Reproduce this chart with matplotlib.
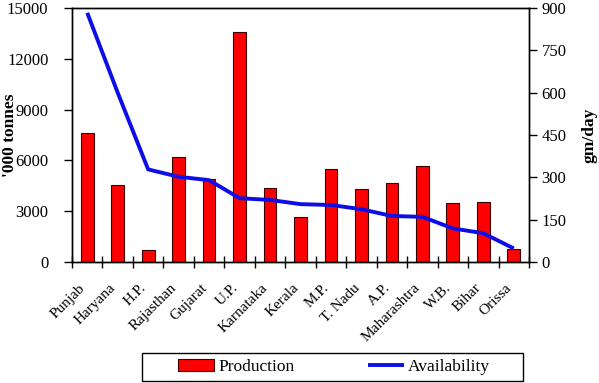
import numpy as np
import matplotlib.pyplot as plt
import matplotlib.transforms as mtransforms
from matplotlib.patches import Rectangle
from matplotlib.ticker import FixedLocator

plt.rcParams['font.family'] = ['Liberation Serif', 'DejaVu Serif']

# Data
states = ['Punjab', 'Haryana', 'H.P.', 'Rajasthan', 'Gujarat', 'U.P.', 'Karnataka',
          'Kerala', 'M.P.', 'T. Nadu', 'A.P.', 'Maharashtra', 'W.B.', 'Bihar', 'Orissa']
production = [7600, 4560, 700, 6180, 4900, 13560, 4350, 2660, 5490, 4290, 4670, 5670, 3460, 3520, 770]
availability = [883, 600, 328, 302, 290, 226, 220, 205, 202, 187, 163, 160, 119, 102, 48]

W, H = 599, 383
fig = plt.figure(figsize=(W / 100, H / 100), dpi=100)
ax = fig.add_axes([72 / W, 1 - 262 / H, (529 - 72) / W, (262 - 8) / H])
ax2 = ax.twinx()

x = np.arange(len(states))
bars = ax.bar(x, production, width=0.42, color='#ff0000', edgecolor='#3a0000',
              linewidth=0.8, label='Production', zorder=2)
line, = ax2.plot(x, availability, color='#0d0de8', lw=2.8, label='Availability',
                 solid_capstyle='butt', zorder=3)

ax.set_xlim(-0.5, len(states) - 0.5)
ax.set_ylim(0, 15000)
ax.set_yticks([0, 3000, 6000, 9000, 12000, 15000])
ax2.set_ylim(0, 900)
ax2.set_yticks([0, 150, 300, 450, 600, 750, 900])

# category labels, rotated, shifted down-left of the bar centre
ax.set_xticks(x)
ax.set_xticklabels(states, rotation=45, ha='right', va='center',
                   rotation_mode='anchor', fontsize=11)
ax.tick_params(axis='x', which='major', length=0, pad=0)
offset = mtransforms.ScaledTranslation(-4 / 100, -24 / 100, fig.dpi_scale_trans)
for lbl in ax.get_xticklabels():
    lbl.set_transform(lbl.get_transform() + offset)

ax.xaxis.set_minor_locator(FixedLocator(np.arange(-0.5, len(states), 1.0)))
ax.tick_params(axis='x', which='minor', direction='inout', length=8, width=1)

ax.tick_params(axis='y', direction='out', length=6, width=1, labelsize=12, pad=11)
ax2.tick_params(axis='y', direction='out', length=6, width=1, labelsize=12, pad=3)

ax.set_ylabel("'000 tonnes", fontsize=12.5, fontweight='bold')
ax2.set_ylabel('gm/day', fontsize=12.5, fontweight='bold')
ax.yaxis.set_label_coords((18 - 72) / 457, 0.5)
ax2.yaxis.set_label_coords((582 - 72) / 457, 0.5)

for a in (ax, ax2):
    for s in a.spines.values():
        s.set_linewidth(1)

ax.set_zorder(ax2.get_zorder() - 1)
ax.patch.set_visible(True)
ax2.patch.set_visible(False)

# legend box drawn separately, entries centred inside it
box = Rectangle((142 / W, 1 - 381 / H), (523 - 142) / W, (381 - 353) / H,
                transform=fig.transFigure, fill=False, edgecolor='black', lw=1)
fig.patches.append(box)
leg = fig.legend([bars, line], ['Production', 'Availability'], loc='center',
                 bbox_to_anchor=(334 / W, 1 - 367 / H), ncol=2,
                 fontsize=12.5, frameon=False,
                 handlelength=2.1, handleheight=0.65, handletextpad=0.25,
                 columnspacing=4.2, borderaxespad=0, borderpad=0)

fig.savefig('out.png', dpi=100)
